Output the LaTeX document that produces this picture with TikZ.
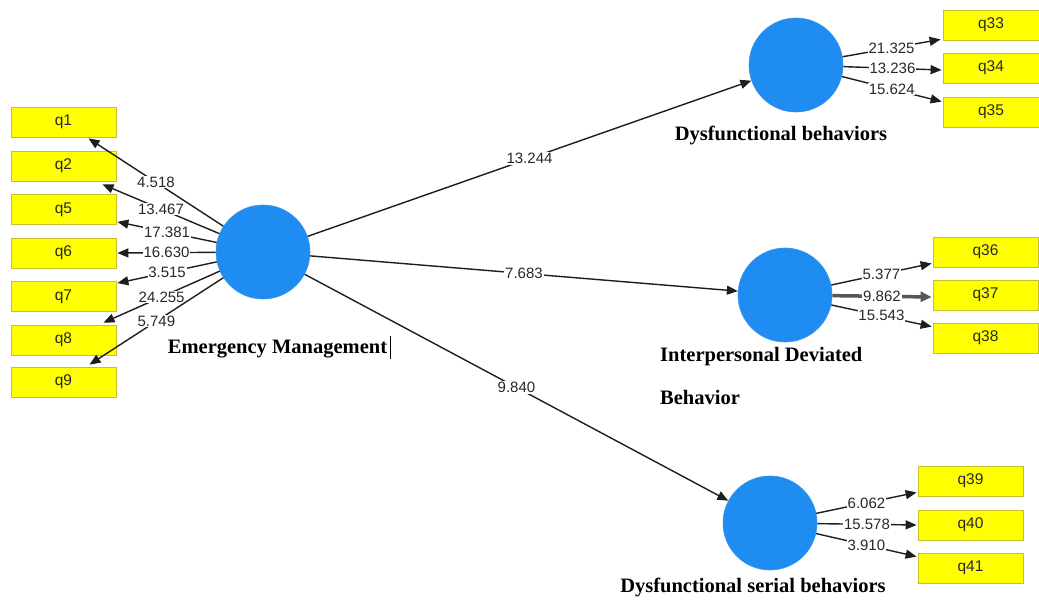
\documentclass[tikz,border=0pt]{standalone}
\usepackage{fontspec}
\setmainfont{Liberation Serif}
\newfontfamily\numfont{Liberation Sans}
\usetikzlibrary{arrows.meta,calc}
\definecolor{boxfill}{RGB}{255,255,0}
\definecolor{boxline}{RGB}{200,192,40}
\definecolor{lvfill}{RGB}{30,140,240}
\definecolor{lvline}{RGB}{60,150,235}
\definecolor{numcol}{RGB}{40,40,40}
\definecolor{linecol}{RGB}{30,30,30}
\tikzset{
  ind/.style={rectangle, draw=boxline, line width=0.8pt, fill=boxfill, minimum width=105pt, minimum height=30pt, inner sep=0pt, text=numcol, font=\numfont\fontsize{15.5}{15.5}\selectfont},
  indr/.style={ind, minimum width=96pt},
  lv/.style={circle, fill=lvfill, draw=lvline, line width=0.6pt, minimum size=94pt, inner sep=0pt},
  conn/.style={draw=linecol, line width=1.4pt, -{Triangle[length=11pt,width=9pt]}},
  wt/.style={fill=white, inner sep=0.8pt, text=numcol, font=\numfont\fontsize{15}{15}\selectfont},
  lvname/.style={font=\bfseries\fontsize{20.5}{20.5}\selectfont, inner sep=0pt}
}
\begin{document}
\begin{tikzpicture}[x=1pt,y=-1pt]
\useasboundingbox[fill=white] (0,0) rectangle (1039,602);
% latent variables
\node[lv] (em) at (263,252) {};
\node[lv] (db) at (796,65) {};
\node[lv] (idb) at (785,295) {};
\node[lv] (dsb) at (770,523) {};
% left indicators
\node[ind] (q1) at (63.5,122) {q1};
\node[ind] (q2) at (63.5,166) {q2};
\node[ind] (q5) at (63.5,209.5) {q5};
\node[ind] (q6) at (63.5,253) {q6};
\node[ind] (q7) at (63.5,296.5) {q7};
\node[ind] (q8) at (63.5,340) {q8};
\node[ind] (q9) at (63.5,382) {q9};
% right indicators
\node[indr] (q33) at (991,25) {q33};
\node[indr] (q34) at (991,68) {q34};
\node[indr] (q35) at (991,112) {q35};
\node[ind] (q36) at (985.5,252) {q36};
\node[ind] (q37) at (985.5,295) {q37};
\node[ind] (q38) at (985.5,338) {q38};
\node[ind] (q39) at (970.5,481) {q39};
\node[ind] (q40) at (970.5,525) {q40};
\node[ind] (q41) at (970.5,568) {q41};
% arrow tips
\coordinate (t1) at ($(q1.south)+(25,1)$);
\coordinate (t2) at ($(q2.south)+(39,3)$);
\coordinate (t5) at ($(q5.south east)+(1,-3)$);
\coordinate (t6) at ($(q6.east)+(1,0)$);
\coordinate (t7) at ($(q7.north east)+(1,2)$);
\coordinate (t8) at ($(q8.north)+(40,-2)$);
\coordinate (t9) at ($(q9.north)+(26,-2)$);
\coordinate (t33) at ($(q33.south west)+(-2,-1)$);
\coordinate (t34) at ($(q34.west)+(-1,2)$);
\coordinate (t35) at ($(q35.north west)+(-1,5)$);
\coordinate (t36) at ($(q36.south west)+(-1,-4)$);
\coordinate (t37) at ($(q37.west)+(-1,2)$);
\coordinate (t38) at ($(q38.north west)+(-1,4)$);
\coordinate (t39) at ($(q39.south west)+(-1,-4)$);
\coordinate (t40) at ($(q40.west)+(-1,0)$);
\coordinate (t41) at ($(q41.north west)+(-1,4)$);
% left outer loadings
\draw[conn] (em) -- node[wt]{4.518} (t1);
\draw[conn] (em) -- node[wt]{13.467} (t2);
\draw[conn] (em) -- node[wt]{17.381} (t5);
\draw[conn] (em) -- node[wt]{16.630} (t6);
\draw[conn] (em) -- node[wt]{3.515} (t7);
\draw[conn] (em) -- node[wt]{24.255} (t8);
\draw[conn] (em) -- node[wt]{5.749} (t9);
% structural paths
\draw[conn] (em) -- node[wt]{13.244} (db);
\draw[conn] (em) -- node[wt]{7.683} (idb);
\draw[conn] (em) -- node[wt]{9.840} (dsb);
% right loadings
\draw[conn] (db) -- node[wt]{21.325} (t33);
\draw[conn] (db) -- node[wt]{13.236} (t34);
\draw[conn] (db) -- node[wt]{15.624} (t35);
\draw[conn] (idb) -- node[wt]{5.377} (t36);
\draw[conn, line width=3.5pt, draw=linecol!75, -{Triangle[length=11pt,width=10pt]}] (idb) -- node[wt]{9.862} (t37);
\draw[conn] (idb) -- node[wt]{15.543} (t38);
\draw[conn] (dsb) -- node[wt]{6.062} (t39);
\draw[conn] (dsb) -- node[wt]{15.578} (t40);
\draw[conn] (dsb) -- node[wt]{3.910} (t41);
% names
\node[lvname] (emname) at (277.5,349) {Emergency Management};
\coordinate (cur1) at ($(emname.east)+(3,-13)$);
\coordinate (cur2) at ($(emname.east)+(3,10)$);
\draw[line width=1pt] (cur1) -- (cur2);
\node[lvname] (dbname) at (781,135) {Dysfunctional behaviors};
\node[lvname, anchor=west] (idbname1) at (660,357) {Interpersonal Deviated};
\node[lvname, anchor=west] (idbname2) at (660,397) {Behavior};
\node[lvname] (dsbname) at (753,587) {Dysfunctional serial behaviors};
\end{tikzpicture}
\end{document}
